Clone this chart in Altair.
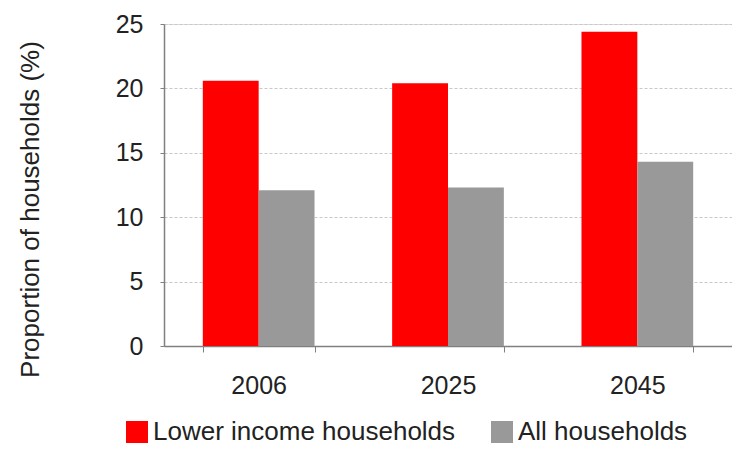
import altair as alt
import pandas as pd

years = ["2006", "2025", "2045"]
series_names = ["Lower income households", "All households"]
lower_income = [20.6, 20.4, 24.4]
all_households = [12.1, 12.3, 14.3]
colors = ["#ff0000", "#999999"]

rows = []
for i, y in enumerate(years):
    rows.append({"year": y, "series": series_names[0], "value": lower_income[i]})
    rows.append({"year": y, "series": series_names[1], "value": all_households[i]})
df = pd.DataFrame(rows)

FONT = "Liberation Sans"

chart = alt.Chart(df).mark_bar().encode(
    x=alt.X(
        "year:N",
        sort=years,
        scale=alt.Scale(paddingInner=0.41, paddingOuter=0.205),
        axis=alt.Axis(
            title=None, labelAngle=0, labelFontSize=25, labelColor="#222222",
            labelPadding=21, tickSize=6, tickColor="#808080", tickBand="extent",
            domainColor="#808080", domainWidth=1.5, grid=False, labelFont=FONT,
        ),
    ),
    xOffset=alt.XOffset("series:N", sort=series_names),
    y=alt.Y(
        "value:Q",
        scale=alt.Scale(domain=[0, 25], nice=False),
        axis=alt.Axis(
            values=[0, 5, 10, 15, 20, 25], title="Proportion of households (%)",
            titleFontSize=26, titleFontWeight="normal", titleColor="#222222",
            titleFont=FONT, titleX=-134, titleY=185, titleAngle=270,
            titleAlign="center", titleBaseline="middle",
            labelFontSize=25, labelColor="#222222", labelFont=FONT,
            labelPadding=17, tickSize=4, tickColor="#808080",
            domainColor="#808080", domainWidth=1.5,
            grid=True, gridColor="#c8c8c8", gridDash=[3, 2], gridWidth=1,
        ),
    ),
    color=alt.Color(
        "series:N",
        scale=alt.Scale(domain=series_names, range=colors),
        legend=alt.Legend(
            title=None, orient="none", direction="horizontal",
            legendX=-40, legendY=395, symbolType="square", symbolSize=484,
            symbolStrokeWidth=0, symbolOpacity=1, labelFontSize=26,
            labelFont=FONT, labelColor="#222222", labelLimit=0,
            labelOffset=3, columnPadding=33,
        ),
    ),
).properties(
    width=568,
    height=322,
    autosize=alt.AutoSizeParams(type="none"),
    padding={"left": 164, "top": 24, "right": 0, "bottom": 104},
).configure_view(stroke=None).configure(font=FONT)

chart.save("out.html", embed_options={"renderer": "svg", "actions": False})
